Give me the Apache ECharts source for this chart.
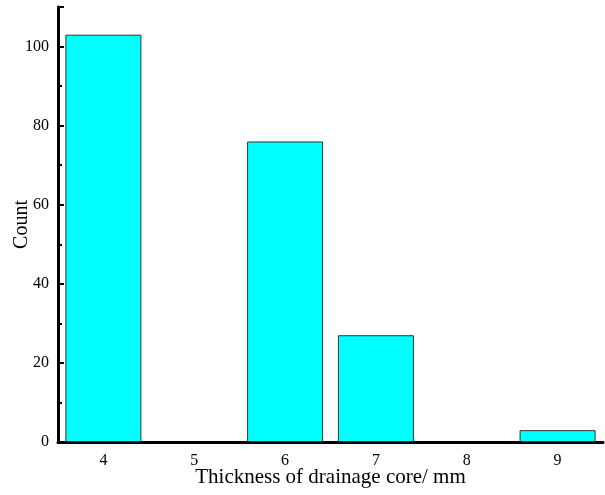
<!DOCTYPE html>
<html><head><meta charset="utf-8">
<script src="https://cdn.jsdelivr.net/npm/echarts@6/dist/echarts.min.js"></script>
<style>html,body{margin:0;padding:0;background:#fff}#c{width:605px;height:495px}</style>
</head><body><div id="c"></div>
<script>
var categories = ['4','5','6','7','8','9'];
var counts = [103, 0, 76, 27, 0, 3];
var yTicks = [0, 20, 40, 60, 80, 100];
var F = 'Liberation Serif, Times New Roman, serif';
var chart = echarts.init(document.getElementById('c'));
chart.setOption({
  animation:false,
  grid:{left:58, right:2, top:7, bottom:53, containLabel:false, outerBoundsMode:'none'},
  xAxis:{type:'category', data:categories,
    axisLine:{lineStyle:{color:'#000', width:3}},
    axisTick:{show:false},
    axisLabel:{color:'#000', fontFamily:F, fontSize:16, margin:11},
    name:'Thickness of drainage core/ mm', nameLocation:'middle', nameGap:25, nameMoveOverlap:false,
    nameTextStyle:{color:'#000', fontFamily:F, fontSize:21}},
  yAxis:{type:'value', min:0, max:110, interval:20,
    axisLine:{show:true, lineStyle:{color:'#000', width:3}},
    axisTick:{show:true, inside:true, length:6, lineStyle:{color:'#000', width:2}},
    minorTick:{show:true, splitNumber:2, length:4, lineStyle:{color:'#000', width:2}},
    splitLine:{show:false},
    axisLabel:{color:'#000', fontFamily:F, fontSize:16, margin:9,
      formatter:function(v){return yTicks.indexOf(v)>=0 ? String(v) : '';}},
    name:'Count', nameLocation:'middle', nameGap:26, nameRotate:90, nameMoveOverlap:false,
    nameTextStyle:{color:'#000', fontFamily:F, fontSize:20}},
  series:[{type:'bar', data:counts.map(function(v){return v===0?'-':v;}), barWidth:76,
    itemStyle:{color:'#00FFFF', borderColor:'#333', borderWidth:1}}]
});
</script></body></html>
